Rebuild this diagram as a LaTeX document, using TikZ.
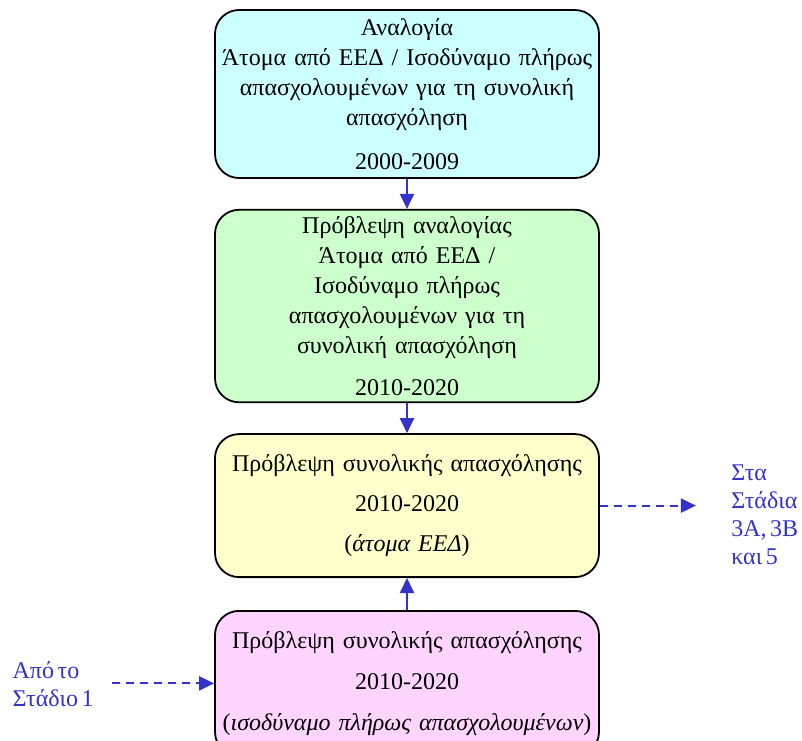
\documentclass[tikz,border=0pt]{standalone}
\usepackage{fontspec}
\setmainfont[WordSpace=0.6]{Liberation Serif}
\usepackage{xcolor}
\usetikzlibrary{arrows.meta, positioning}

\definecolor{flowblue}{RGB}{51,51,204}
\definecolor{cyanfill}{RGB}{204,255,255}
\definecolor{greenfill}{RGB}{204,255,204}
\definecolor{yellowfill}{RGB}{255,255,204}
\definecolor{pinkfill}{RGB}{255,213,255}

\begin{document}
\begin{tikzpicture}[
    node distance=15pt,
    stagebox/.style={
      rectangle, rounded corners=12pt, draw=black, line width=0.9pt,
      minimum width=192pt, text width=188pt, inner xsep=2pt, align=center,
      font=\fontsize{12}{15}\selectfont
    },
    arr/.style={-{Triangle[width=7pt,length=7.5pt]}, line width=1pt, flowblue},
    darr/.style={-{Triangle[width=7pt,length=7.5pt]}, line width=1pt, draw=flowblue,
      fill=flowblue, dash pattern=on 4pt off 3pt},
    note/.style={inner sep=0pt, align=left, text=flowblue,
      font=\fontsize{12}{14}\selectfont}
  ]

  \useasboundingbox (0,0) rectangle (401pt,-370pt);
  \clip (0,0) rectangle (401pt,-370pt);

  % Stage boxes, top to bottom
  \node[stagebox, fill=cyanfill, minimum height=84pt] (ratio) at (203.5pt,-47pt)
    {Αναλογία\\Άτομα από ΕΕΔ / Ισοδύναμο πλήρως\\απασχολουμένων για τη συνολική\\απασχόληση\\[7pt]2000-2009};
  \node[stagebox, fill=greenfill, minimum height=96pt, below=of ratio] (ratiofc)
    {Πρόβλεψη αναλογίας\\Άτομα από ΕΕΔ /\\Ισοδύναμο πλήρως\\απασχολουμένων για τη\\συνολική απασχόληση\\[6pt]2010-2020};
  \node[stagebox, fill=yellowfill, minimum height=71.5pt, below=of ratiofc] (totlfs)
    {Πρόβλεψη συνολικής απασχόλησης\\[5pt]2010-2020\\[5pt](\textit{άτομα ΕΕΔ})};
  \node[stagebox, fill=pinkfill, minimum height=72.5pt, below=16pt of totlfs] (totfte)
    {Πρόβλεψη συνολικής απασχόλησης\\[5.5pt]2010-2020\\[5.5pt](\textit{ισοδύναμο πλήρως απασχολουμένων})};

  \draw[arr] (ratio) -- (ratiofc);
  \draw[arr] (ratiofc) -- (totlfs);
  \draw[arr] (totfte) -- (totlfs);

  % Links to other stages
  \node[note, right=65.5pt of totlfs, yshift=-4.5pt] (tostage) {Στα\\Στάδια\\3Α, 3Β\\και 5};
  \draw[darr, shorten >=17.5pt] (totlfs.east) -- (totlfs.east -| tostage.west);

  \node[note, left=60pt of totfte, yshift=-0.5pt] (fromstage) {Από το\\Στάδιο 1};
  \draw[darr, shorten <=9pt] (fromstage.east |- totfte.west) -- (totfte.west);

\end{tikzpicture}
\end{document}
